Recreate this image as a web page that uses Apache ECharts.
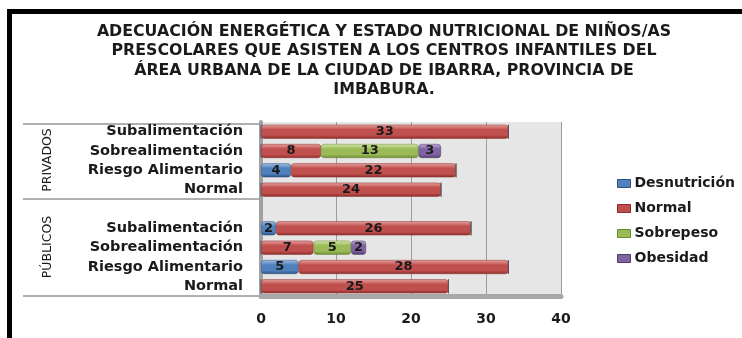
<!DOCTYPE html>
<html>
<head>
<meta charset="utf-8">
<script src="https://cdn.jsdelivr.net/npm/echarts@6/dist/echarts.min.js"></script>
<style>html,body{margin:0;padding:0;background:#fff;}#c{width:742px;height:338px;}</style>
</head>
<body>
<div id="c"></div>
<script>
const titleLines = [
  'ADECUACIÓN ENERGÉTICA Y ESTADO NUTRICIONAL DE NIÑOS/AS',
  'PRESCOLARES QUE ASISTEN A LOS CENTROS INFANTILES DEL',
  'ÁREA URBANA DE LA CIUDAD DE IBARRA, PROVINCIA DE',
  'IMBABURA.'
];
const groups = ['PRIVADOS', 'PÚBLICOS'];
const categories = ['Subalimentación', 'Sobrealimentación', 'Riesgo Alimentario', 'Normal'];
const seriesNames = ['Desnutrición', 'Normal', 'Sobrepeso', 'Obesidad'];
// values listed top-to-bottom per group
const desnutricionPriv = [0, 0, 4, 0];
const desnutricionPub  = [2, 0, 5, 0];
const normalPriv       = [33, 8, 22, 24];
const normalPub        = [26, 7, 28, 25];
const sobrepesoPriv    = [0, 13, 0, 0];
const sobrepesoPub     = [0, 5, 0, 0];
const obesidadPriv     = [0, 3, 0, 0];
const obesidadPub      = [0, 2, 0, 0];
const xTicks = [0, 10, 20, 30, 40];

const axisCats = [
  ...categories.map(c => groups[0] + '|' + c),
  'blank|',
  ...categories.map(c => groups[1] + '|' + c)
];
function join(priv, pub) { return [...priv, '-', ...pub]; }
const seriesData = [
  join(desnutricionPriv, desnutricionPub),
  join(normalPriv, normalPub),
  join(sobrepesoPriv, sobrepesoPub),
  join(obesidadPriv, obesidadPub)
];
const palette = [
  {base: '#4f81bd', light: '#a3bfe2', dark: '#2d5080'},
  {base: '#c0504d', light: '#e8a3a1', dark: '#8a2d2a'},
  {base: '#9bbb59', light: '#d6e8ad', dark: '#6a8a30'},
  {base: '#8064a2', light: '#bfadd6', dark: '#4e3a6b'}
];
function grad(p) {
  return new echarts.graphic.LinearGradient(0, 0, 0, 1, [
    {offset: 0, color: p.light},
    {offset: 0.35, color: p.base},
    {offset: 0.75, color: p.base},
    {offset: 1, color: p.dark}
  ]);
}
const FONT = '"DejaVu Sans", sans-serif';

const chart = echarts.init(document.getElementById('c'), null, {renderer: 'canvas'});
chart.setOption({
  animation: false,
  backgroundColor: '#ffffff',
  grid: {
    left: 261, right: 181, top: 122, bottom: 42,
    show: true, backgroundColor: '#e6e6e6', borderWidth: 0
  },
  legend: {
    orient: 'vertical',
    left: 612, top: 170,
    itemWidth: 13, itemHeight: 8, itemGap: 8,
    textStyle: {fontFamily: FONT, fontWeight: 'bold', fontSize: 14, color: '#1a1a1a', lineHeight: 17, padding: [0, 0, 0, -1]},
    data: seriesNames.map((n, i) => ({name: n, icon: 'rect', itemStyle: {color: palette[i].base, borderColor: palette[i].dark, borderWidth: 1}}))
  },
  xAxis: {
    type: 'value', min: 0, max: 40, interval: 10,
    axisLine: {show: true, lineStyle: {color: '#a8a8a8', width: 5}},
    axisTick: {show: false},
    splitLine: {show: true, lineStyle: {color: '#9c9c9c', width: 1}},
    axisLabel: {margin: 16, fontFamily: FONT, fontWeight: 'bold', fontSize: 14, color: '#1a1a1a',
      formatter: v => xTicks.includes(v) ? String(v) : ''}
  },
  yAxis: {
    type: 'category', inverse: true, data: axisCats,
    axisLine: {show: true, lineStyle: {color: '#a0a0a0', width: 4}},
    axisTick: {show: false},
    axisLabel: {interval: 0, hideOverlap: false, margin: 18, fontFamily: FONT, fontWeight: 'bold', fontSize: 14.5, color: '#1a1a1a',
      formatter: v => v.split('|')[1] || ''}
  },
  series: seriesNames.map((name, i) => ({
    name, type: 'bar', stack: 'total', barWidth: 14,
    data: seriesData[i],
    itemStyle: {color: grad(palette[i]), borderColor: palette[i].dark, borderWidth: 0.5, borderRadius: 3},
    label: {
      show: true, position: 'inside',
      fontFamily: FONT, fontWeight: 'bold', fontSize: 13, color: '#1a1a1a',
      formatter: p => (p.value ? String(p.value) : '')
    }
  })),
  graphic: [
    {type: 'rect', shape: {x: 7, y: 9, width: 735, height: 5}, style: {fill: '#000'}},
    {type: 'rect', shape: {x: 7, y: 9, width: 5, height: 329}, style: {fill: '#000'}},
    {type: 'line', shape: {x1: 23, y1: 124, x2: 259, y2: 124}, style: {stroke: '#b0b0b0', lineWidth: 2}},
    {type: 'line', shape: {x1: 23, y1: 199, x2: 259, y2: 199}, style: {stroke: '#b0b0b0', lineWidth: 2}},
    {type: 'line', shape: {x1: 23, y1: 296, x2: 259, y2: 296}, style: {stroke: '#b0b0b0', lineWidth: 2}},
    {type: 'text', x: 48, y: 160, rotation: Math.PI / 2,
      style: {text: groups[0], align: 'center', verticalAlign: 'middle', font: '12.5px "DejaVu Sans", sans-serif', fill: '#1a1a1a'}},
    {type: 'text', x: 48, y: 247, rotation: Math.PI / 2,
      style: {text: groups[1], align: 'center', verticalAlign: 'middle', font: '12.5px "DejaVu Sans", sans-serif', fill: '#1a1a1a'}},
    {type: 'text', x: 384, y: 22,
      style: {text: titleLines.join('\n'), align: 'center', verticalAlign: 'top', lineHeight: 19.5,
        font: 'bold 15.8px "DejaVu Sans", sans-serif', fill: '#1a1a1a'}}
  ]
});
</script>
</body>
</html>
